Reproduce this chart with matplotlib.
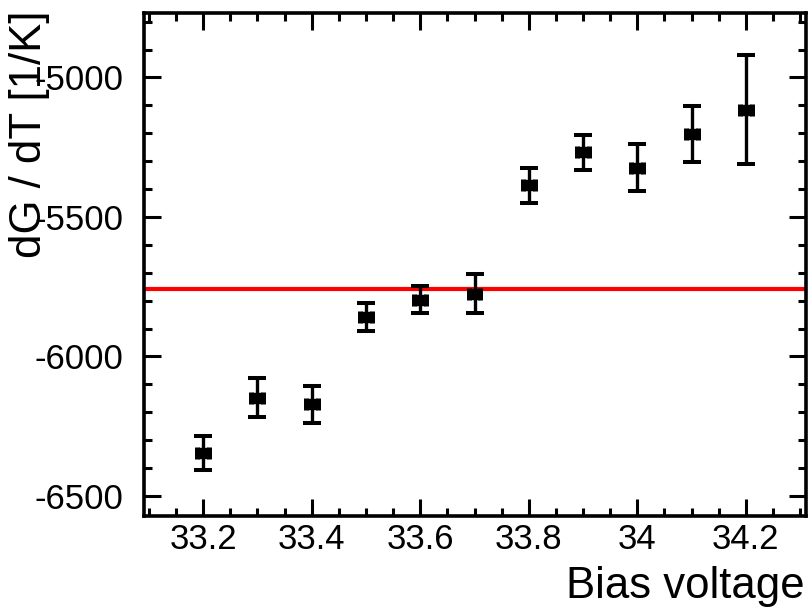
import numpy as np
import matplotlib
matplotlib.use("Agg")
import matplotlib.pyplot as plt
from matplotlib.ticker import MultipleLocator, FuncFormatter

plt.rcParams['font.family'] = ['Liberation Sans', 'DejaVu Sans']
plt.rcParams['axes.unicode_minus'] = False

# bias voltage scan: temperature coefficient of the gain
bias = [33.2, 33.3, 33.4, 33.5, 33.6, 33.7, 33.8, 33.9, 34.0, 34.1, 34.2]
dgdt = [-6346, -6148, -6171, -5858, -5797, -5776, -5387, -5269, -5324, -5203, -5116]
dgdt_err = [61, 69, 66, 51, 49, 70, 63, 61, 84, 100, 195]
bias_err = 0.011
mean_level = -5760

W, H = 808, 608
fig = plt.figure(figsize=(W / 100, H / 100), dpi=100)
ax = fig.add_axes([143.5 / W, 1 - 516 / H, (805.5 - 143.5) / W, (516 - 13) / H])

ax.axhline(mean_level, color='#ff0000', lw=3.0, zorder=1)

# vertical errors with wide caps, short horizontal errors with short caps
ax.errorbar(bias, dgdt, yerr=dgdt_err, fmt='none', ecolor='black',
            elinewidth=2.4, capsize=6.8, capthick=2.9, zorder=3)
ax.errorbar(bias, dgdt, xerr=bias_err, fmt='s', color='black', ms=7,
            elinewidth=2.4, capsize=4.3, capthick=3.6, zorder=4)

ax.set_xlim(33.09, 34.31)
ax.set_ylim(-6572, -4769)

ax.xaxis.set_major_locator(MultipleLocator(0.2))
ax.xaxis.set_minor_locator(MultipleLocator(0.05))
ax.yaxis.set_major_locator(MultipleLocator(500))
ax.yaxis.set_minor_locator(MultipleLocator(100))
ax.xaxis.set_major_formatter(FuncFormatter(lambda v, p: '{:g}'.format(round(v, 2))))

ax.tick_params(which='both', direction='in', top=True, right=True, width=2.2,
               labelsize=25)
ax.tick_params(which='major', length=12)
ax.tick_params(which='minor', length=6)
ax.tick_params(axis='x', pad=5)
ax.tick_params(axis='y', pad=14.5)
for s in ax.spines.values():
    s.set_linewidth(2.6)

fig.text(805 / W, 1 - 598 / H, 'Bias voltage', ha='right', va='baseline', fontsize=31.5)
fig.text(30 / W, 1 - 11 / H, 'dG / dT [1/K]', ha='center', va='top', rotation=90,
         fontsize=31.5)

fig.savefig('out.png', dpi=100)
